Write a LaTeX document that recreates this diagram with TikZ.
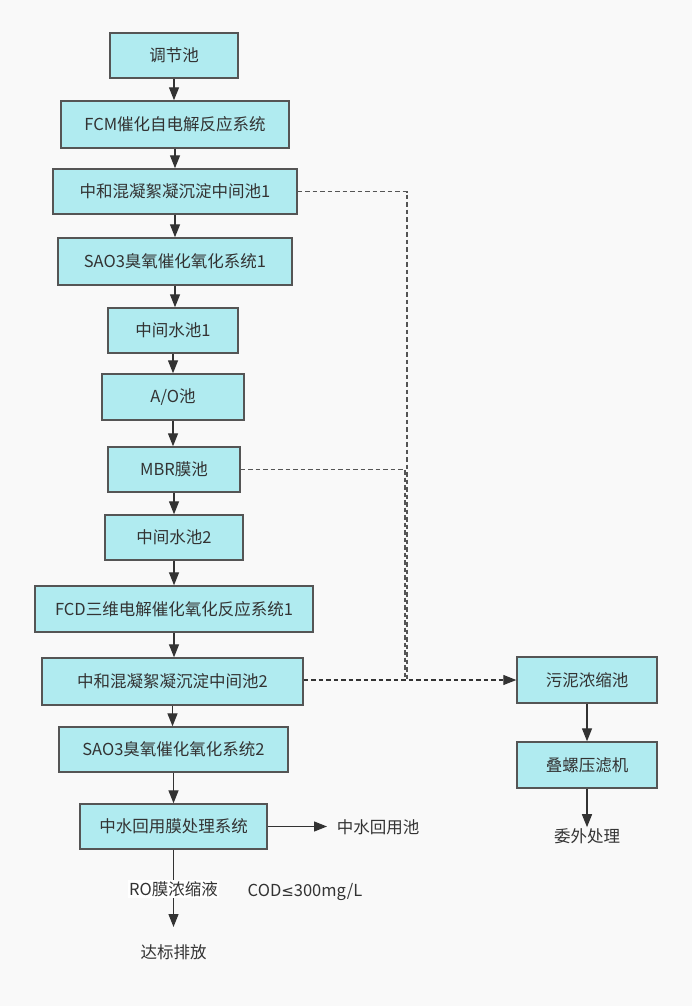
\documentclass[tikz,border=0pt]{standalone}
\usepackage{fontspec}
\setmainfont{Noto Sans CJK SC}
\newfontfamily\symfont{DejaVu Sans}
\usetikzlibrary{arrows.meta}
\definecolor{bg}{HTML}{F9F9F9}
\definecolor{boxfill}{HTML}{B0EBF0}
\definecolor{boxline}{HTML}{555555}
\definecolor{txt}{HTML}{333333}
\tikzset{
  box/.style={draw=boxline, line width=1.4pt, fill=boxfill, text=txt, inner sep=0pt, font=\fontsize{16.5}{19}\selectfont},
  lbl/.style={text=txt, inner sep=1pt, font=\fontsize{16.5}{19}\selectfont},
  arr/.style={draw=txt, line width=1.3pt, -{Triangle[length=13pt,width=10pt]}},
  dashline/.style={draw=boxline, line width=1.1pt, dash pattern=on 4.5pt off 3pt},
  dasharr/.style={dashline, -{Triangle[length=13pt,width=10pt]}, draw=txt},
}
\begin{document}
\begin{tikzpicture}[x=1pt,y=-1pt]
\fill[bg] (0,0) rectangle (692,1006);
\useasboundingbox (0,0) rectangle (692,1006);
\node[box, minimum width=128pt, minimum height=45pt] (n1) at (174,55.5) {调节池};
\node[box, minimum width=228pt, minimum height=47pt] (n2) at (175,124.5) {FCM催化自电解反应系统};
\node[box, minimum width=244pt, minimum height=45pt] (n3) at (175,191.5) {中和混凝絮凝沉淀中间池1};
\node[box, minimum width=234pt, minimum height=47pt] (n4) at (175,261.5) {SAO3臭氧催化氧化系统1};
\node[box, minimum width=130pt, minimum height=45pt] (n5) at (173,330.5) {中间水池1};
\node[box, minimum width=142pt, minimum height=46pt] (n6) at (173,397) {A/O池};
\node[box, minimum width=132pt, minimum height=45pt] (n7) at (174,469.5) {MBR膜池};
\node[box, minimum width=138pt, minimum height=45pt] (n8) at (174,537.5) {中间水池2};
\node[box, minimum width=278pt, minimum height=46pt] (n9) at (174,609) {FCD三维电解催化氧化反应系统1};
\node[box, minimum width=261pt, minimum height=47pt] (n10) at (172.5,681.5) {中和混凝絮凝沉淀中间池2};
\node[box, minimum width=229pt, minimum height=45pt] (n11) at (173.5,749.5) {SAO3臭氧催化氧化系统2};
\node[box, minimum width=187pt, minimum height=45pt] (n12) at (173.5,826.5) {中水回用膜处理系统};
\node[box, minimum width=140pt, minimum height=46pt] (s1) at (587,680) {污泥浓缩池};
\node[box, minimum width=140pt, minimum height=46pt] (s2) at (587,765) {叠螺压滤机};

\node[lbl] (reuse) at (378,827) {中水回用池};
\node[lbl] (disch) at (173.5,952) {达标排放};
\node[lbl] (outs) at (587,836) {委外处理};
\node[lbl] (cod) at (305,892) {COD{\symfont\fontsize{15}{18}\selectfont ≤}300mg/L};

\draw[arr] (n1) -- (n1 |- n2.north);
\draw[arr] (n2) -- (n2 |- n3.north);
\draw[arr] (n3) -- (n3 |- n4.north);
\draw[arr] (n4) -- (n4 |- n5.north);
\draw[arr] (n5) -- (n5 |- n6.north);
\draw[arr] (n6) -- (n6 |- n7.north);
\draw[arr] (n7) -- (n7 |- n8.north);
\draw[arr] (n8) -- (n8 |- n9.north);
\draw[arr] (n9) -- (n9 |- n10.north);
\draw[arr] (n10) -- (n10 |- n11.north);
\draw[arr] (n11) -- (n11 |- n12.north);
\coordinate (rtip) at (327,826.5);
\draw[arr] (n12.east) -- (rtip);
\draw[arr] (s1) -- (s2);
\draw[arr] (s2) -- (s2 |- outs.north);
\coordinate (dtip) at (173.5,927);
\draw[arr] (n12) -- (dtip);
\node[lbl, fill=white] (ro) at (173.5,889) {RO膜浓缩液};

\coordinate (c1) at (407,191.5);
\coordinate (c2) at (407,681);
\coordinate (c3) at (405,469.5);
\coordinate (c4) at (405,681);
\draw[dashline] (n3.east) -- (c1) -- (c2);
\draw[dashline] (n7.east) -- (c3) -- (c4);
\draw[dasharr] (n10.east |- s1.west) -- (s1.west);
\end{tikzpicture}
\end{document}
